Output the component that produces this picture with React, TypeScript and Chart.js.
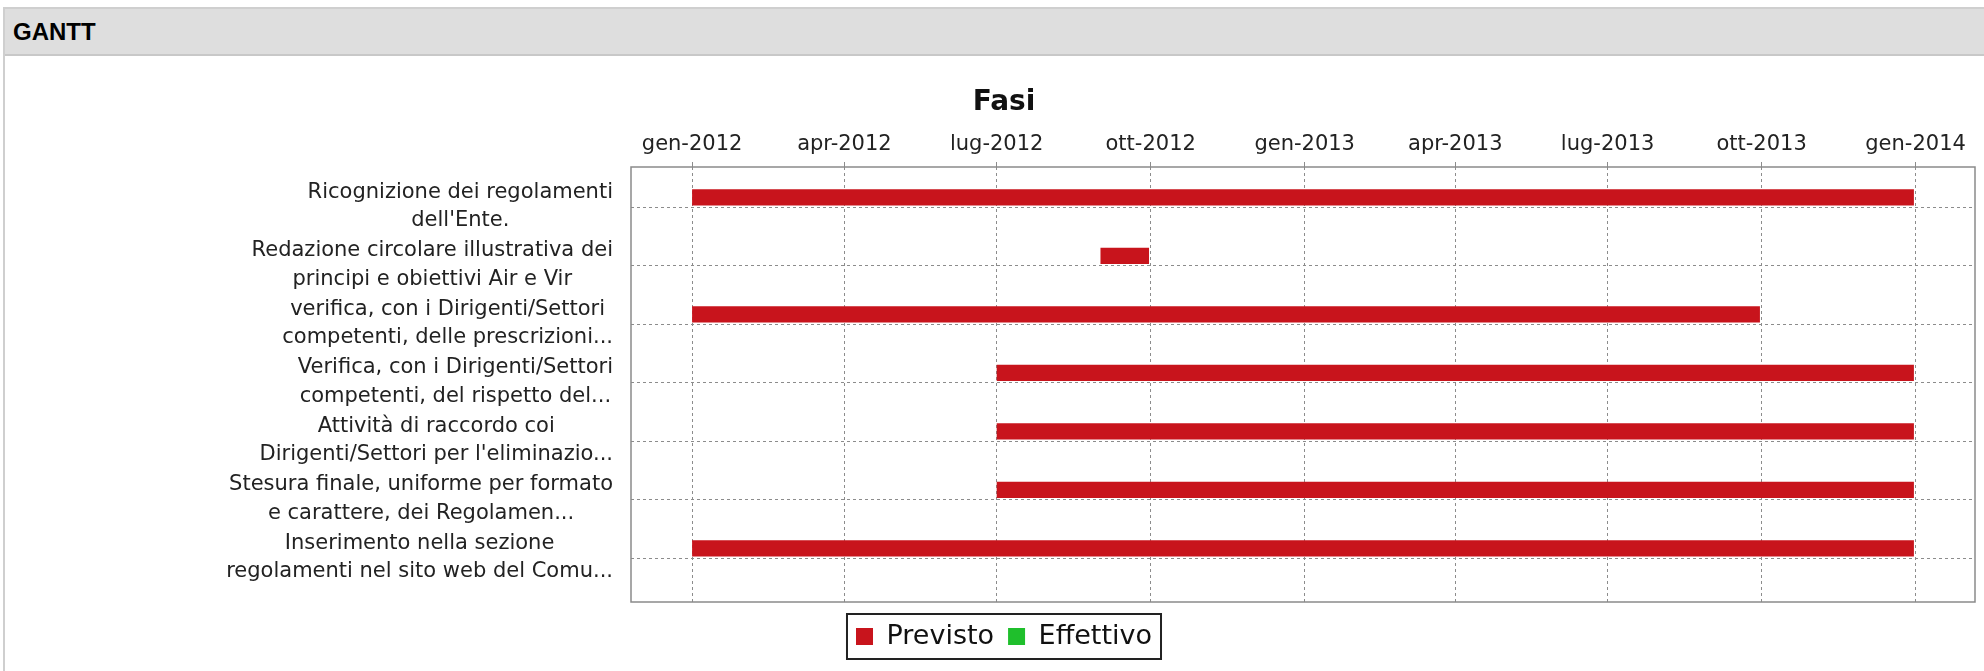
import React, { useEffect, useRef } from 'react';
import { Chart, registerables } from 'chart.js';

Chart.register(...registerables);

const categories: string[][] = [
  ["Ricognizione dei regolamenti", "dell'Ente."],
  ["Redazione circolare illustrativa dei", "principi e obiettivi Air e Vir"],
  ["verifica, con i Dirigenti/Settori", "competenti, delle prescrizioni..."],
  ["Verifica, con i Dirigenti/Settori", "competenti, del rispetto del..."],
  ["Attività di raccordo coi", "Dirigenti/Settori per l'eliminazio..."],
  ["Stesura finale, uniforme per formato", "e carattere, dei Regolamen..."],
  ["Inserimento nella sezione", "regolamenti nel sito web del Comu..."],
];

const previstoStart = ["2012-01-01", "2012-09-01", "2012-01-01", "2012-07-01", "2012-07-01", "2012-07-01", "2012-01-01"];
const previstoEnd = ["2013-12-31", "2012-09-30", "2013-09-30", "2013-12-31", "2013-12-31", "2013-12-31", "2013-12-31"];

const effettivoStart: string[] = [];
const effettivoEnd: string[] = [];

const tickDates = [
  "2012-01-01", "2012-04-01", "2012-07-01", "2012-10-01",
  "2013-01-01", "2013-04-01", "2013-07-01", "2013-10-01", "2014-01-01",
];
const monthNames = ["gen", "feb", "mar", "apr", "mag", "giu", "lug", "ago", "set", "ott", "nov", "dic"];

const seriesNames = ["Previsto", "Effettivo"];
const seriesColors = ["#c8141c", "#1fbf2c"];

const ms = (d: string) => new Date(d + "T00:00:00Z").getTime();

const LABEL_FONT = '21px "DejaVu Sans"';
const LABEL_LINE = 28.6;
const PAD_LEFT = 28;

const customPlugin = {
  id: 'ganttExtras',
  afterDraw(chart: any) {
    const { ctx, chartArea, scales } = chart;
    const y = scales.y;
    ctx.save();
    // plot frame
    ctx.strokeStyle = '#8a8a8a';
    ctx.lineWidth = 1.5;
    ctx.setLineDash([]);
    ctx.strokeRect(chartArea.left, chartArea.top, chartArea.right - chartArea.left, chartArea.bottom - chartArea.top);
    // category labels: block right-aligned, lines centered in block
    ctx.font = LABEL_FONT;
    ctx.fillStyle = '#222';
    ctx.textAlign = 'center';
    ctx.textBaseline = 'middle';
    categories.forEach((lines, i) => {
      const py = y.getPixelForValue(i);
      const w = Math.max(...lines.map((l) => ctx.measureText(l).width));
      const cx = chartArea.left - 18 - w / 2;
      lines.forEach((l, k) => {
        ctx.fillText(l, cx, py - 1 + (k - (lines.length - 1) / 2) * LABEL_LINE);
      });
    });
    // legend frame
    const hb = chart.legend && chart.legend.legendHitBoxes;
    if (hb && hb.length) {
      const first = hb[0];
      const last = hb[hb.length - 1];
      const left = first.left - 9;
      const right = last.left + last.width + 9;
      const top = first.top - 9;
      const h = first.height + 18;
      ctx.strokeStyle = '#222';
      ctx.lineWidth = 2;
      ctx.strokeRect(left, top, right - left, h);
    }
    ctx.restore();
  },
};

export default function App() {
  const ref = useRef<HTMLCanvasElement | null>(null);

  useEffect(() => {
    if (!ref.current) return;
    const starts = previstoStart.map(ms);
    const ends = previstoEnd.map(ms);
    const lo = Math.min(...starts);
    const hi = Math.max(...ends);
    const span = hi - lo;
    const xMin = lo - 0.05 * span;
    const xMax = hi + 0.05 * span;

    const chart = new Chart(ref.current, {
      type: 'bar',
      data: {
        datasets: [
          {
            label: seriesNames[0],
            data: categories.map((_, i) => ({ x: [starts[i], ends[i]], y: i })) as any,
            backgroundColor: seriesColors[0],
            borderWidth: 0,
            categoryPercentage: 0.69,
            barPercentage: 0.8,
          },
          {
            label: seriesNames[1],
            data: effettivoStart.map((s, i) => ({ x: [ms(s), ms(effettivoEnd[i])], y: i })) as any,
            backgroundColor: seriesColors[1],
            borderWidth: 0,
            categoryPercentage: 0.69,
            barPercentage: 0.8,
          },
        ],
      },
      plugins: [customPlugin],
      options: {
        indexAxis: 'y',
        animation: false,
        responsive: true,
        maintainAspectRatio: false,
        layout: { padding: { top: 0, left: PAD_LEFT, right: 24, bottom: 11 } },
        plugins: {
          tooltip: { enabled: false },
          title: {
            display: true,
            text: 'Fasi',
            color: '#111',
            font: { family: '"DejaVu Sans"', size: 28, weight: 'bold', lineHeight: 1.2 },
            padding: { top: 30.4, bottom: 0 },
          },
          legend: {
            position: 'bottom',
            title: {
              display: true,
              text: '',
              font: { size: 1, lineHeight: 1 },
              padding: { top: 6, bottom: 0 },
            },
            labels: {
              color: '#111',
              font: { family: '"DejaVu Sans"', size: 27 },
              boxWidth: 17,
              boxHeight: 17,
              padding: 14,
            },
          },
        },
        scales: {
          x: {
            type: 'linear',
            position: 'top',
            min: xMin,
            max: xMax,
            offset: false,
            afterBuildTicks: (scale: any) => {
              scale.ticks = tickDates.map((d) => ({ value: ms(d) }));
            },
            afterFit: (scale: any) => {
              scale.height = 47;
            },
            ticks: {
              autoSkip: false,
              maxRotation: 0,
              padding: 5,
              color: '#222',
              font: { family: '"DejaVu Sans"', size: 21 },
              callback: (v: any) => {
                const d = new Date(Number(v));
                return monthNames[d.getUTCMonth()] + '-' + d.getUTCFullYear();
              },
            },
            grid: {
              color: '#8c8c8c',
              lineWidth: 1,
              tickLength: 5,
              drawTicks: true,
              offset: false,
            },
            border: { display: false, dash: [3, 3] },
          },
          y: {
            type: 'linear',
            reverse: true,
            offset: false,
            min: -0.692,
            max: 6.744,
            afterBuildTicks: (scale: any) => {
              scale.ticks = categories.map((_, i) => ({ value: i }));
            },
            afterFit: (scale: any) => {
              scale.width = 626 - PAD_LEFT;
            },
            ticks: { display: false },
            grid: {
              color: '#8c8c8c',
              lineWidth: 1,
              drawTicks: false,
              offset: false,
            },
            border: { display: false, dash: [3, 3] },
          },
        },
      },
    });
    return () => chart.destroy();
  }, []);

  return (
    <div style={{ position: 'absolute', left: 0, top: 0, width: 1984, height: 671, overflow: 'hidden', background: '#fff' }}>
      <div
        style={{
          position: 'absolute', left: 3, top: 7, width: 2100, height: 700,
          border: '2px solid #cfcfcf', boxSizing: 'border-box',
        }}
      >
        <div
          style={{
            height: 45, background: '#dedede', borderBottom: '2px solid #c8c8c8',
            fontFamily: '"Liberation Sans", Arial, sans-serif', fontWeight: 'bold', fontSize: 24,
            lineHeight: '46px', paddingLeft: 8, color: '#000',
          }}
        >
          GANTT
        </div>
      </div>
      <div style={{ position: 'absolute', left: 5, top: 56, width: 1994, height: 615 }}>
        <canvas ref={ref} />
      </div>
    </div>
  );
}
